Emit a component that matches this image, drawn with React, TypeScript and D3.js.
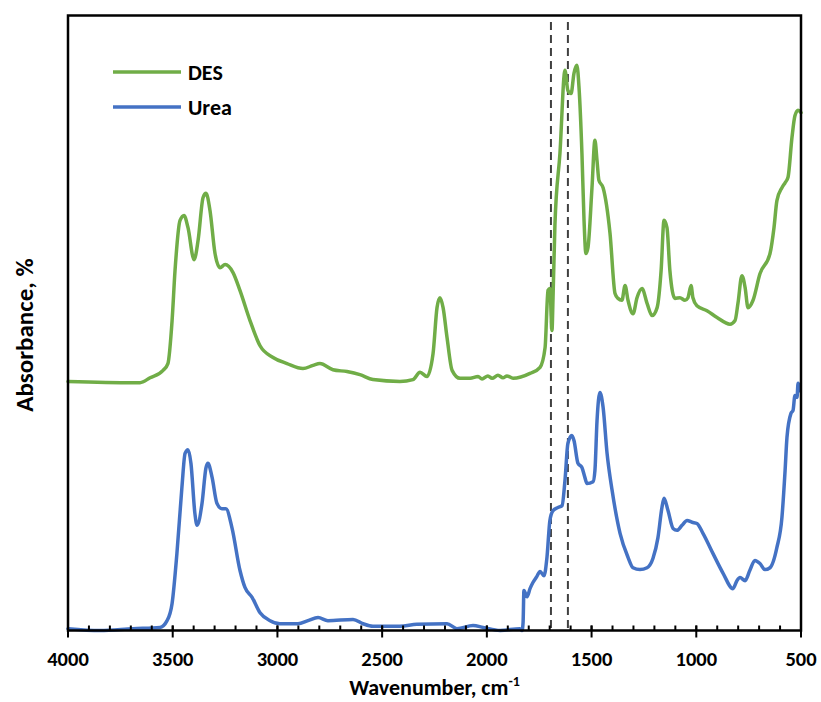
import React from "react";
import * as d3 from "d3";

const desWave = [4000, 3690, 3656, 3608, 3546, 3523, 3503, 3489, 3465, 3446, 3427, 3398, 3379, 3355, 3341, 3322, 3298, 3274, 3250, 3212, 3179, 3131, 3083, 3021, 2954, 2878, 2830, 2797, 2735, 2668, 2606, 2544, 2415, 2353, 2319, 2286, 2257, 2238, 2224, 2209, 2190, 2166, 2128, 2080, 2042, 2023, 1995, 1975, 1947, 1923, 1904, 1875, 1794, 1746, 1722, 1708, 1699, 1689, 1684, 1675, 1651, 1627, 1613, 1598, 1584, 1570, 1560, 1546, 1536, 1527, 1517, 1498, 1484, 1474, 1465, 1445, 1412, 1388, 1374, 1355, 1340, 1326, 1302, 1283, 1259, 1235, 1211, 1187, 1168, 1154, 1140, 1126, 1102, 1078, 1054, 1040, 1025, 1016, 997, 949, 901, 839, 815, 801, 782, 767, 753, 729, 696, 648, 629, 615, 591, 576, 562, 543, 529, 514, 500];
const desAbs = [40.5, 40.3, 40.3, 41.1, 42.3, 43.4, 50.4, 58.5, 66.7, 67.5, 65.5, 60.3, 63.4, 70.4, 71.1, 68.3, 61.3, 59.0, 59.5, 58.2, 55.3, 50.4, 46.3, 44.4, 43.4, 42.6, 43.1, 43.4, 42.4, 42.1, 41.6, 40.8, 40.5, 40.8, 42.0, 41.3, 45.0, 52.5, 54.1, 52.5, 47.6, 42.3, 41.0, 41.0, 41.3, 40.9, 41.4, 41.0, 41.5, 41.1, 41.4, 41.0, 41.8, 42.8, 46.0, 55.3, 55.6, 48.8, 54.1, 65.9, 77.6, 91.1, 87.8, 87.3, 90.6, 91.9, 88.3, 77.6, 66.7, 61.3, 62.3, 72.0, 79.7, 76.4, 73.2, 72.0, 64.6, 54.8, 54.0, 53.7, 56.1, 53.7, 51.5, 54.1, 55.6, 53.2, 51.2, 52.5, 58.5, 66.7, 65.5, 58.5, 54.0, 54.1, 53.7, 54.1, 56.1, 54.1, 52.8, 52.0, 50.9, 49.8, 50.4, 53.2, 57.7, 55.8, 52.5, 53.7, 58.0, 61.3, 65.5, 69.9, 72.0, 72.8, 73.7, 80.2, 83.7, 84.6, 84.2];

const ureaWave = [4000, 3847, 3690, 3561, 3527, 3503, 3480, 3456, 3441, 3427, 3413, 3394, 3384, 3360, 3341, 3332, 3312, 3289, 3265, 3246, 3217, 3179, 3155, 3121, 3083, 3035, 2988, 2902, 2854, 2806, 2759, 2639, 2591, 2544, 2477, 2415, 2334, 2190, 2143, 2066, 2018, 1937, 1842, 1832, 1827, 1823, 1808, 1794, 1780, 1761, 1746, 1727, 1713, 1699, 1684, 1660, 1641, 1627, 1613, 1594, 1584, 1565, 1546, 1532, 1522, 1493, 1484, 1474, 1460, 1445, 1426, 1402, 1364, 1326, 1302, 1269, 1235, 1207, 1183, 1164, 1154, 1135, 1111, 1092, 1068, 1044, 1020, 997, 968, 920, 872, 825, 806, 791, 767, 744, 720, 696, 672, 648, 615, 591, 576, 567, 548, 538, 529, 519, 514, 505];
const ureaAbs = [0.3, 0.0, 0.3, 0.5, 1.6, 4.4, 12.5, 23.3, 28.8, 29.4, 27.2, 19.0, 17.1, 20.7, 26.5, 27.2, 24.9, 20.7, 19.8, 19.8, 16.7, 9.8, 7.0, 5.4, 2.9, 1.6, 1.1, 1.1, 1.6, 2.1, 1.6, 1.8, 1.1, 0.7, 0.7, 0.7, 1.0, 1.1, 0.3, 0.8, 0.5, 0.0, 0.3, 0.0, 1.3, 6.5, 5.5, 6.8, 7.8, 8.8, 9.6, 8.9, 11.9, 17.9, 19.5, 20.0, 20.3, 24.4, 30.4, 31.7, 30.9, 27.2, 26.5, 24.9, 23.9, 24.2, 26.0, 34.1, 38.7, 36.3, 28.8, 22.8, 15.8, 11.9, 10.2, 9.9, 10.2, 11.7, 15.1, 20.0, 21.5, 19.5, 16.6, 16.3, 17.1, 17.9, 17.6, 17.4, 15.8, 12.5, 9.3, 6.8, 8.1, 8.6, 8.1, 9.8, 11.4, 10.9, 9.9, 10.2, 13.5, 18.4, 26.0, 31.4, 35.3, 35.8, 38.2, 37.9, 40.2, 39.0];

const xTicks = [4000, 3500, 3000, 2500, 2000, 1500, 1000, 500];
const minorTicks = d3.range(4000, 499, -100);
const dashedLines = [1694, 1613];
const seriesNames = ["DES", "Urea"];
const seriesColors = ["#70AD47", "#4472C4"];

const W = 821;
const H = 702;
const left = 68;
const right = 801;
const top = 15.5;
const bottom = 630.5;

export default function App() {
  const x = d3.scaleLinear().domain([4000, 500]).range([left, right]);
  const y = d3.scaleLinear().domain([0, 100]).range([bottom, top]);
  const line = d3
    .line<[number, number]>()
    .x((d) => x(d[0]))
    .y((d) => y(d[1]))
    .curve(d3.curveMonotoneX);
  const desPath = line(desWave.map((w, i) => [w, desAbs[i]]));
  const ureaPath = line(ureaWave.map((w, i) => [w, ureaAbs[i]]));
  const font = "Carlito, Calibri, Lato, 'Open Sans', sans-serif";

  return (
    <svg width={W} height={H} style={{ position: "absolute", left: 0, top: 0 }} fontFamily={font}>
      <rect x={0} y={0} width={W} height={H} fill="#fff" />
      {dashedLines.map((w) => (
        <line key={w} x1={x(w)} x2={x(w)} y1={22} y2={bottom - 2} stroke="#404040" strokeWidth={2} strokeDasharray="8,5" />
      ))}
      <path d={ureaPath || ""} fill="none" stroke={seriesColors[1]} strokeWidth={3.5} strokeLinejoin="round" strokeLinecap="round" />
      <path d={desPath || ""} fill="none" stroke={seriesColors[0]} strokeWidth={3.5} strokeLinejoin="round" strokeLinecap="round" />
      <rect x={left} y={top} width={right - left} height={bottom - top} fill="none" stroke="#000" strokeWidth={2.5} />
      {minorTicks.map((t) => (
        <line key={"m" + t} x1={x(t)} x2={x(t)} y1={bottom} y2={bottom - 5} stroke="#000" strokeWidth={2} />
      ))}
      {xTicks.map((t) => (
        <g key={t}>
          <line x1={x(t)} x2={x(t)} y1={bottom - 5} y2={bottom + 7} stroke="#000" strokeWidth={2} />
          <text x={x(t)} y={666} textAnchor="middle" fontSize={20.5} fontWeight="bold" fill="#000">
            {t}
          </text>
        </g>
      ))}
      <text x={(left + right) / 2} y={695} textAnchor="middle" fontSize={22} fontWeight="bold" fill="#000">
        Wavenumber, cm
        <tspan fontSize={14} dy={-9}>-1</tspan>
      </text>
      <text transform={`translate(33, ${(top + bottom) / 2 + 12}) rotate(-90)`} textAnchor="middle" fontSize={25} fontWeight="bold" fill="#000">
        Absorbance, %
      </text>
      {seriesNames.map((n, i) => (
        <g key={n}>
          <line x1={113} x2={181} y1={72 + i * 35} y2={72 + i * 35} stroke={seriesColors[i]} strokeWidth={3.5} />
          <text x={188} y={80 + i * 35} fontSize={22} fontWeight="bold" fill="#000">
            {n}
          </text>
        </g>
      ))}
    </svg>
  );
}
